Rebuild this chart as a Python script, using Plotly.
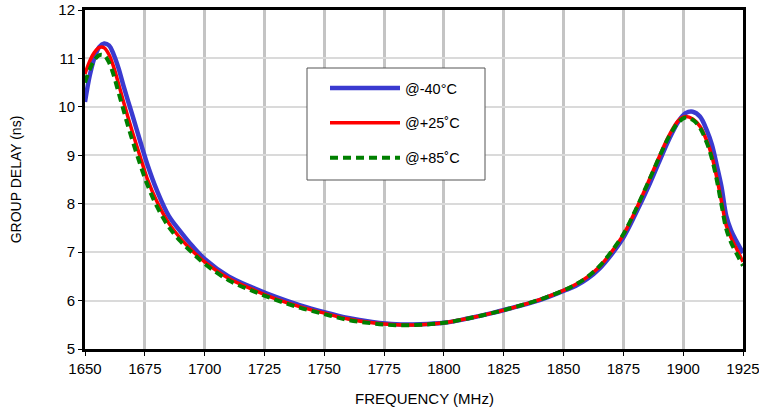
import plotly.graph_objects as go

freq = [1650, 1652, 1654, 1656, 1658, 1660, 1662, 1664, 1666, 1668, 1670, 1673, 1676,
        1680, 1685, 1690, 1695, 1700, 1710, 1720, 1730, 1740, 1750, 1760, 1770, 1780,
        1790, 1800, 1810, 1820, 1830, 1840, 1850, 1855, 1860, 1865, 1870, 1875, 1880,
        1885, 1890, 1894, 1898, 1901, 1904, 1907, 1910, 1912, 1914, 1916, 1918, 1920,
        1922, 1925]

delay_m40 = [10.10, 10.65, 11.02, 11.24, 11.31, 11.27, 11.08, 10.80, 10.45, 10.12, 9.80,
             9.30, 8.82, 8.28, 7.75, 7.42, 7.12, 6.86, 6.50, 6.27, 6.07, 5.90, 5.76, 5.64,
             5.56, 5.51, 5.51, 5.54, 5.63, 5.74, 5.87, 6.01, 6.20, 6.30, 6.45, 6.66, 6.95,
             7.30, 7.78, 8.30, 8.87, 9.32, 9.70, 9.87, 9.90, 9.80, 9.50, 9.22, 8.80, 8.35,
             7.75, 7.45, 7.25, 6.98]

delay_p25 = [10.68, 10.95, 11.13, 11.23, 11.22, 11.08, 10.82, 10.48, 10.12, 9.78, 9.45,
             8.98, 8.52, 8.05, 7.60, 7.28, 7.02, 6.80, 6.46, 6.23, 6.03, 5.87, 5.74, 5.62,
             5.54, 5.50, 5.50, 5.54, 5.63, 5.74, 5.87, 6.02, 6.21, 6.33, 6.49, 6.70, 7.00,
             7.36, 7.85, 8.40, 8.97, 9.40, 9.72, 9.80, 9.75, 9.60, 9.28, 8.98, 8.55, 8.05,
             7.55, 7.30, 7.10, 6.80]

delay_p85 = [10.50, 10.78, 10.97, 11.07, 11.06, 10.92, 10.65, 10.30, 9.95, 9.60, 9.28,
             8.82, 8.40, 7.95, 7.52, 7.22, 6.98, 6.76, 6.42, 6.20, 6.01, 5.85, 5.72, 5.60,
             5.53, 5.49, 5.50, 5.54, 5.63, 5.74, 5.87, 6.02, 6.21, 6.33, 6.49, 6.71, 7.01,
             7.37, 7.86, 8.40, 8.96, 9.38, 9.68, 9.78, 9.73, 9.57, 9.24, 8.93, 8.50, 7.98,
             7.48, 7.20, 7.00, 6.72]

names = ["@-40°C", "@+25˚C", "@+85˚C"]
x_ticks = [1650, 1675, 1700, 1725, 1750, 1775, 1800, 1825, 1850, 1875, 1900, 1925]
y_ticks = [5, 6, 7, 8, 9, 10, 11, 12]
x_title = "FREQUENCY (MHz)"
y_title = "GROUP DELAY (ns)"

fig = go.Figure()
fig.add_trace(go.Scatter(x=freq, y=delay_m40, name=names[0], mode="lines",
                         line=dict(color="#3a3ad0", width=4.5, shape="spline"),
                         legendgroup="a"))
fig.add_trace(go.Scatter(x=freq, y=delay_p25, name=names[1], mode="lines",
                         line=dict(color="#ff0000", width=3.5, shape="spline"),
                         legendgroup="b"))
fig.add_trace(go.Scatter(x=freq, y=delay_p85, name=names[2], mode="lines",
                         line=dict(color="#008000", width=4, dash="8px,5px", shape="spline"),
                         legendgroup="c"))

W, H = 759, 409
L, R, T, B = 85, 16, 10, 60
pw, ph = W - L - R, H - T - B


def px(xp):
    return (xp - L) / pw


def py(yp):
    return 1 - (yp - T) / ph


# legend frame
fig.add_shape(type="rect", xref="paper", yref="paper",
              x0=px(307), x1=px(485), y0=py(180), y1=py(68),
              line=dict(color="#555555", width=1), fillcolor="white", layer="above")

# x axis title (slightly right of centre, as in the original)
fig.add_annotation(text=x_title, xref="paper", yref="paper",
                   x=px(424), y=py(398), xanchor="center", yanchor="middle",
                   showarrow=False, font=dict(size=15, color="black"))

font_family = "Liberation Sans, Arial, sans-serif"
fig.update_layout(
    width=W, height=H,
    margin=dict(l=L, r=R, t=T, b=B),
    paper_bgcolor="white", plot_bgcolor="white",
    font=dict(family=font_family, size=15, color="black"),
    showlegend=True,
    hovermode=False,
    legend=dict(x=px(325), y=py(72), xanchor="left", yanchor="top",
                bgcolor="rgba(0,0,0,0)", borderwidth=0,
                font=dict(size=14.5), itemwidth=70, tracegroupgap=13,
                itemclick=False),
    xaxis=dict(range=[1650, 1925], tickvals=x_ticks, ticks="outside", ticklen=4,
               tickwidth=1, tickcolor="black", automargin=False,
               ticklabeloverflow="allow",
               showgrid=True, gridcolor="#c4c4c4", gridwidth=2.5,
               showline=True, linecolor="black", linewidth=3, mirror=True,
               zeroline=False),
    yaxis=dict(range=[5, 12], tickvals=y_ticks, ticks="outside", ticklen=4,
               tickwidth=1, tickcolor="black", automargin=False,
               ticklabeloverflow="allow",
               showgrid=True, gridcolor="#dadada", gridwidth=1.5,
               showline=True, linecolor="black", linewidth=3, mirror=True,
               zeroline=False,
               title=dict(text=y_title, font=dict(size=14), standoff=34)),
)

fig.write_html("out.html", config={"displayModeBar": False},
               post_script="document.body.style.margin='0';")
